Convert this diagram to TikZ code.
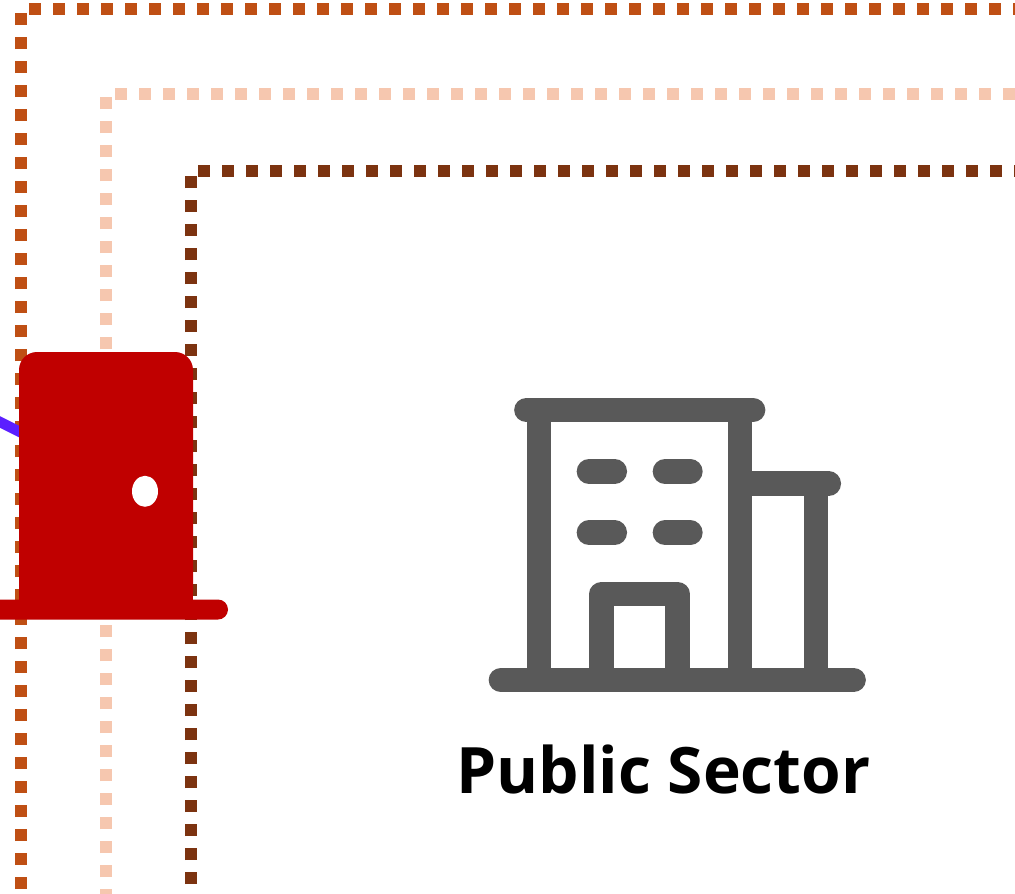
\documentclass[tikz,border=0pt]{standalone}
\usepackage{fontspec}
\setmainfont{Open Sans}
\definecolor{orangeline}{HTML}{BF4F14}
\definecolor{peachline}{HTML}{F6C7AF}
\definecolor{brownline}{HTML}{7C3310}
\definecolor{doorred}{HTML}{C00000}
\definecolor{icongray}{HTML}{595959}
\definecolor{linkpurple}{HTML}{5B1FFF}
\tikzset{
  x=1pt,y=-1pt,
  dotted frame/.style={line width=12.4pt,dash pattern=on 12.4pt off 11.6pt,line cap=butt,miter limit=10},
  icon stroke/.style={draw=icongray,line width=24.7pt,line cap=round,line join=round},
  icon wall/.style={draw=icongray,line width=24.7pt,line cap=butt,line join=round},
}
\begin{document}
\begin{tikzpicture}
\useasboundingbox (0,0) rectangle (1015,894);
\clip (0,0) rectangle (1015,894);
\fill[white] (0,0) rectangle (1015,894);
% dotted frames
\draw[dotted frame,orangeline] (21,913) -- (21,9) -- (1040,9);
\draw[dotted frame,peachline] (106,925) -- (106,94) -- (1040,94);
\draw[dotted frame,brownline] (191,908) -- (191,171) -- (1040,171);
% door link
\coordinate (linkstart) at (-20,412);
\coordinate (linkend) at (40,442);
\draw[linkpurple,line width=10.5pt] (linkstart) -- (linkend);
% door
\node[fill=doorred,rounded corners=18pt,inner sep=0pt,minimum width=174pt,minimum height=258pt] (door) at (106,481) {};
\fill[doorred] (19,560) rectangle (193,605);
\fill[doorred,rounded corners=10pt] (-16,599.5) rectangle (228,619.5);
\fill[white] (145,491.3) ellipse [x radius=13,y radius=15.5];
% building icon
\draw[icon stroke] (526.5,410) -- (753,410);
\draw[icon stroke] (501,680) -- (853.5,680);
\draw[icon wall] (539,410) -- (539,680);
\draw[icon wall] (740,410) -- (740,680);
\draw[icon wall] (816,484) -- (816,680);
\draw[icon stroke] (752,483.7) -- (828.7,483.7);
\draw[icon stroke] (589,471.4) -- (614.7,471.4);
\draw[icon stroke] (665,471.4) -- (690.3,471.4);
\draw[icon stroke] (589,532.7) -- (614.7,532.7);
\draw[icon stroke] (665,532.7) -- (690.3,532.7);
\draw[icon wall] (601.8,680) -- (601.8,594) -- (677.5,594) -- (677.5,680);
% label
\node[anchor=base,inner sep=0pt,font=\fontsize{64}{70}\selectfont\bfseries] (label) at (663.5,793) {Public Sector};
\end{tikzpicture}
\end{document}
